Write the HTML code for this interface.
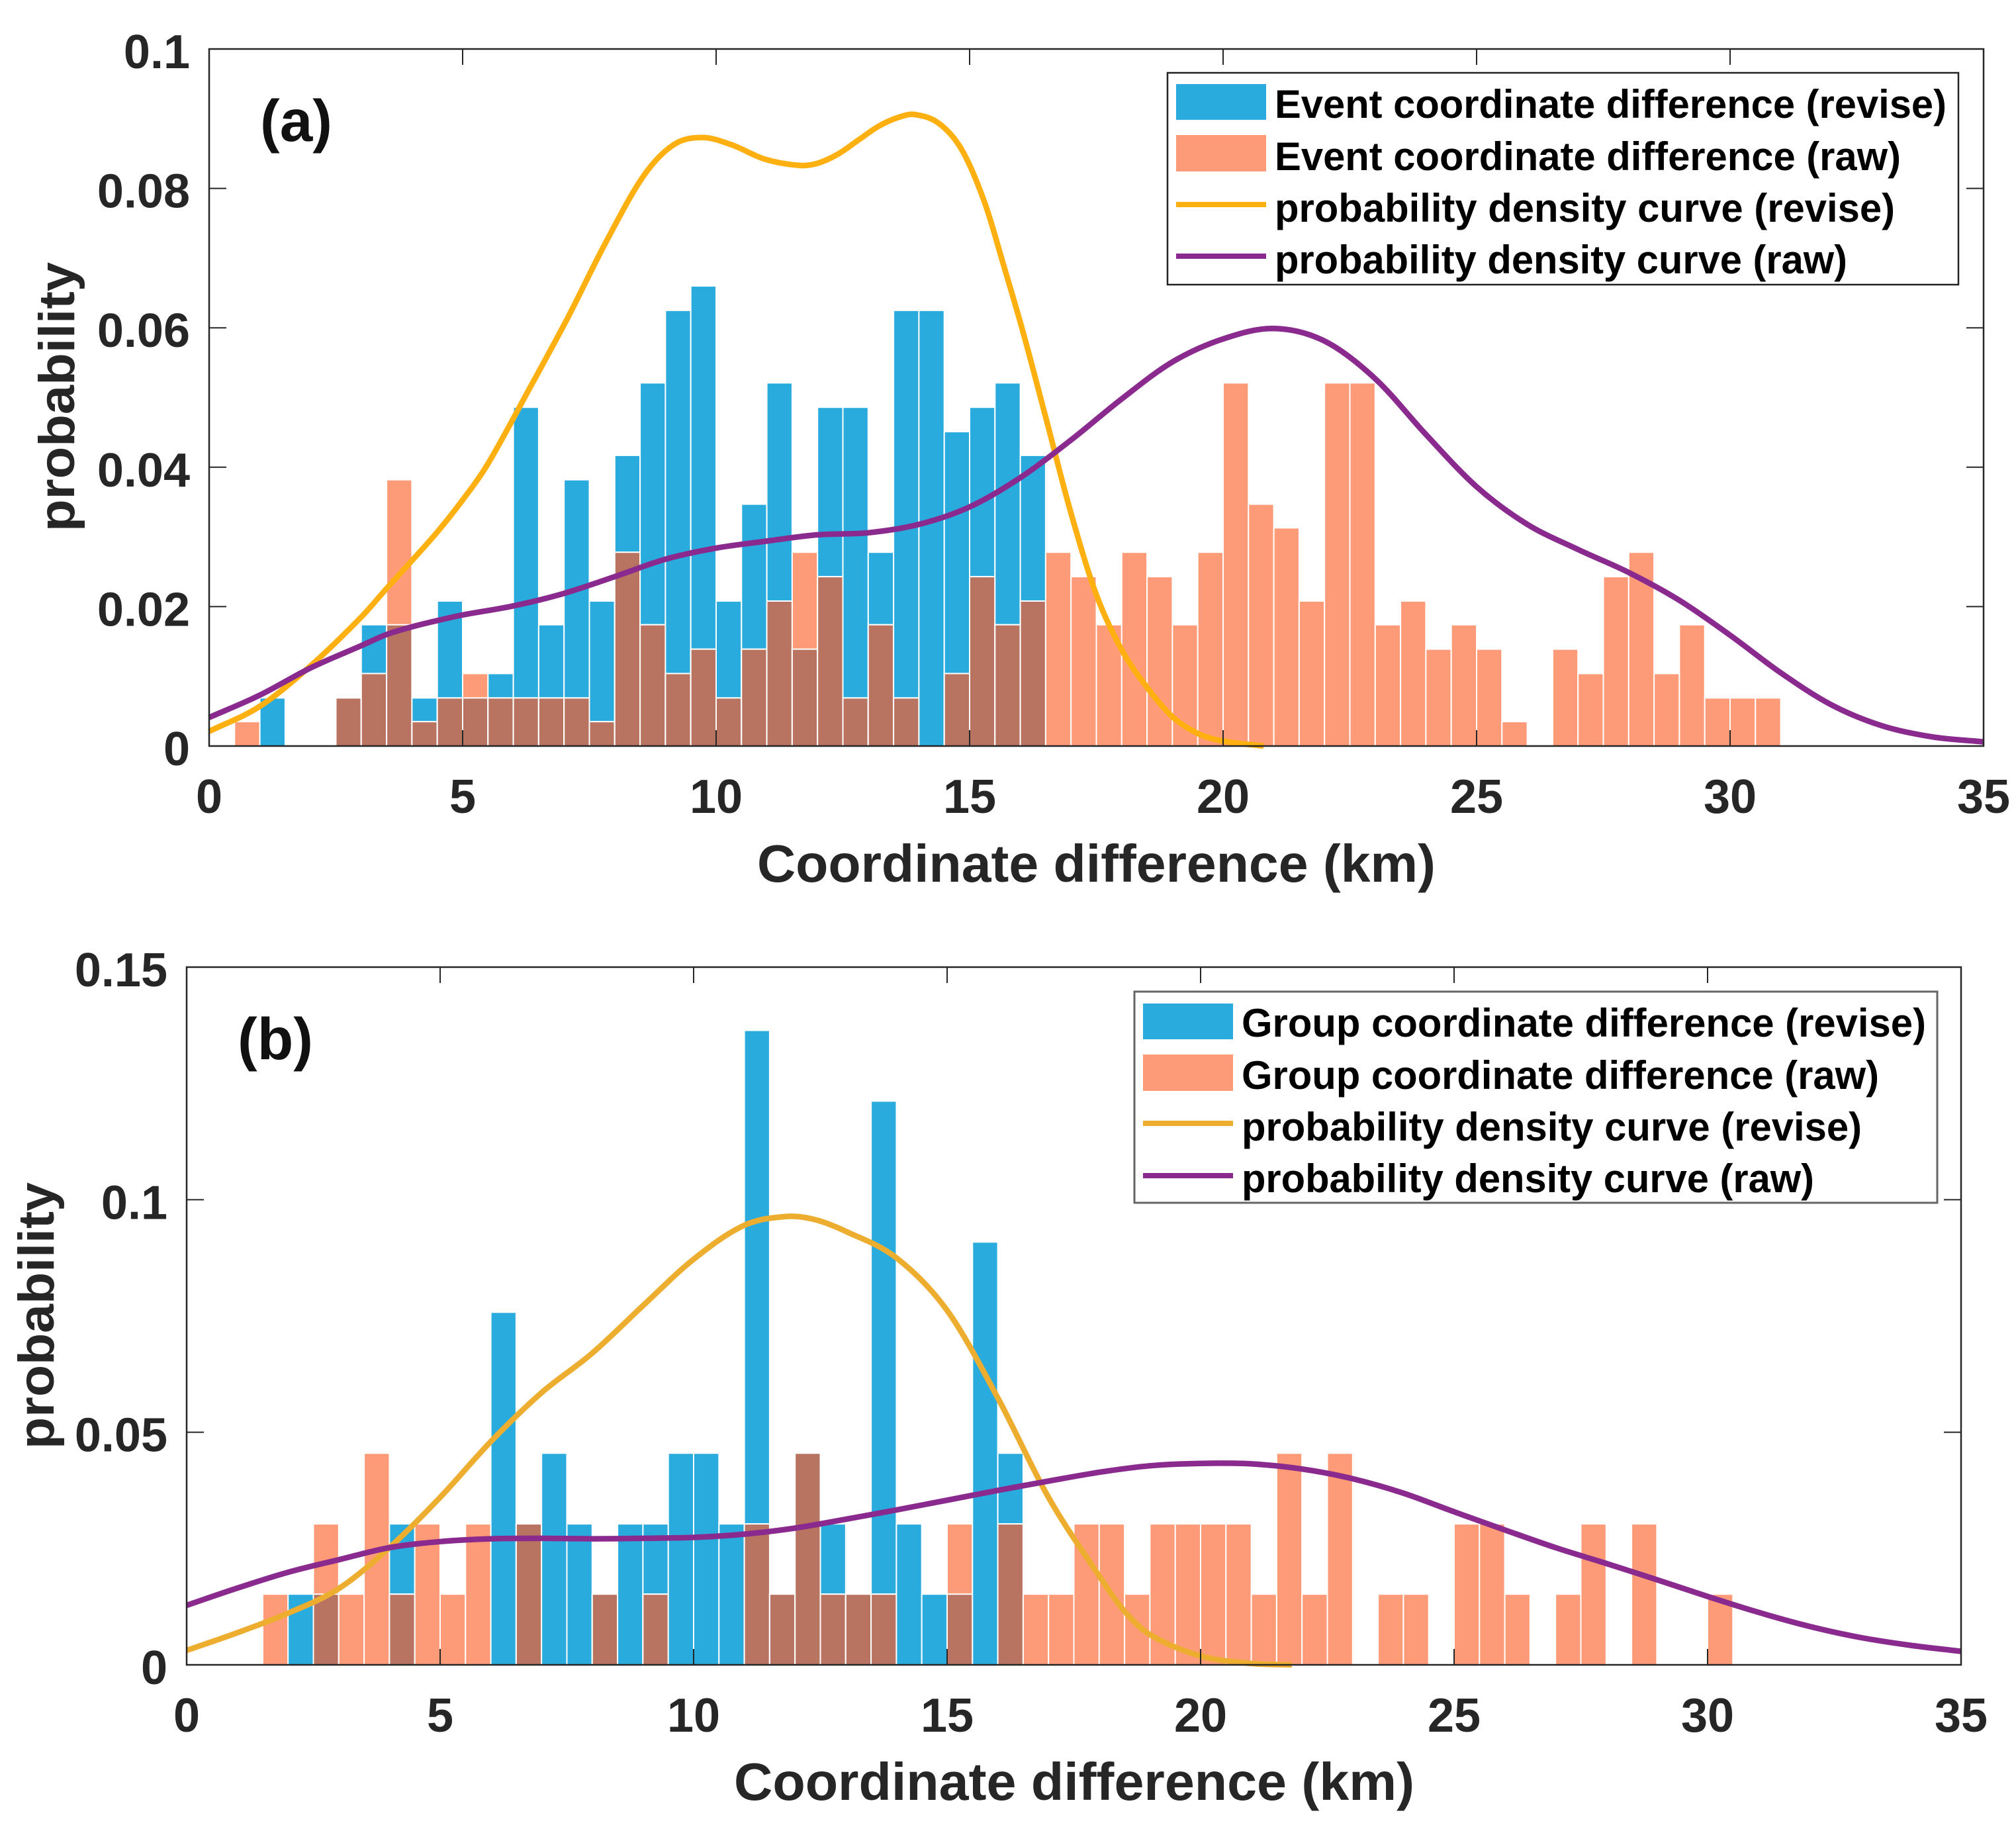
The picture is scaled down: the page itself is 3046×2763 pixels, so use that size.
<!DOCTYPE html>
<html lang="en">
<head>
<meta charset="utf-8">
<title>Coordinate difference histograms</title>
<style>
html,body{margin:0;padding:0;background:#fff;}
svg{display:block;position:absolute;left:0;top:0;}
text{font-family:"Liberation Sans",Arial,sans-serif;font-weight:bold;}
</style>
</head>
<body>
<svg id="figure" xmlns="http://www.w3.org/2000/svg" width="3046" height="2763" viewBox="0 0 3046 2763">
<rect x="0" y="0" width="3046" height="2763" fill="#fff"/>
<g id="panel-a"></g>
<g id="panel-b"></g>

<g>
<rect x="1764" y="110" width="1195" height="320" fill="#fff" stroke="#222" stroke-width="2.5"/>
<rect x="1777" y="127" width="136" height="54" fill="#29ABDE"/>
<rect x="1777" y="204" width="136" height="55" fill="#FD9B78"/>
<line x1="1777" x2="1913" y1="309" y2="309" stroke="#FDB00F" stroke-width="8"/>
<line x1="1777" x2="1913" y1="387" y2="387" stroke="#8A2A8E" stroke-width="8"/>
<text x="1926" y="178" font-size="60" fill="#000" textLength="1015" lengthAdjust="spacingAndGlyphs">Event coordinate difference (revise)</text>
<text x="1926" y="257" font-size="60" fill="#000" textLength="946" lengthAdjust="spacingAndGlyphs">Event coordinate difference (raw)</text>
<text x="1926" y="335" font-size="60" fill="#000" textLength="937" lengthAdjust="spacingAndGlyphs">probability density curve (revise)</text>
<text x="1926" y="413" font-size="60" fill="#000" textLength="865" lengthAdjust="spacingAndGlyphs">probability density curve (raw)</text>
</g>

<g>
<rect x="1714" y="1498" width="1213" height="319" fill="#fff" stroke="#666" stroke-width="3"/>
<rect x="1727" y="1516" width="136" height="54" fill="#29ABDE"/>
<rect x="1727" y="1593" width="136" height="55" fill="#FD9B78"/>
<line x1="1727" x2="1863" y1="1697" y2="1697" stroke="#EDAE30" stroke-width="8"/>
<line x1="1727" x2="1863" y1="1776" y2="1776" stroke="#8A2A8E" stroke-width="8"/>
<text x="1876" y="1566" font-size="60" fill="#000" textLength="1034" lengthAdjust="spacingAndGlyphs">Group coordinate difference (revise)</text>
<text x="1876" y="1645" font-size="60" fill="#000" textLength="963" lengthAdjust="spacingAndGlyphs">Group coordinate difference (raw)</text>
<text x="1876" y="1723" font-size="60" fill="#000" textLength="937" lengthAdjust="spacingAndGlyphs">probability density curve (revise)</text>
<text x="1876" y="1801" font-size="60" fill="#000" textLength="865" lengthAdjust="spacingAndGlyphs">probability density curve (raw)</text>
</g>

<text x="393" y="213" font-size="89" fill="#111" textLength="109" lengthAdjust="spacingAndGlyphs">(a)</text>
<text x="359" y="1600" font-size="89" fill="#111" textLength="114" lengthAdjust="spacingAndGlyphs">(b)</text>

<text x="1144" y="1332" font-size="80" fill="#262626" textLength="1025" lengthAdjust="spacingAndGlyphs">Coordinate difference (km)</text>
<text x="1109" y="2719" font-size="80" fill="#262626" textLength="1028" lengthAdjust="spacingAndGlyphs">Coordinate difference (km)</text>
<text transform="translate(112 803) rotate(-90)" font-size="76" fill="#262626" textLength="407" lengthAdjust="spacingAndGlyphs">probability</text>
<text transform="translate(81 2189) rotate(-90)" font-size="76" fill="#262626" textLength="403" lengthAdjust="spacingAndGlyphs">probability</text>
</svg>

<script>
// Histogram bin left edges (km), shared by both panels; each bin is 0.5 km wide
const binLefts = [0.5,1,1.5,2,2.5,3,3.5,4,4.5,5,5.5,6,6.5,7,7.5,8,8.5,9,9.5,10,10.5,11,11.5,12,12.5,13,13.5,14,14.5,15,15.5,16,16.5,17,17.5,18,18.5,19,19.5,20,20.5,21,21.5,22,22.5,23,23.5,24,24.5,25,25.5,26,26.5,27,27.5,28,28.5,29,29.5,30,30.5];
const binWidthKm = 0.5;

const eventRevise = [0,.0069,0,0,.0069,.0174,.0174,.0069,.0208,.0069,.0104,.0486,.0174,.0382,.0208,.0417,.0521,.0625,.066,.0208,.0347,.0521,.0139,.0486,.0486,.0278,.0625,.0625,.0451,.0486,.0521,.0417,0,0,0,0,0,0,0,0,0,0,0,0,0,0,0,0,0,0,0,0,0,0,0,0,0,0,0,0,0];
const eventRaw = [.0035,0,0,0,.0069,.0104,.0382,.0035,.0069,.0104,.0069,.0069,.0069,.0069,.0035,.0278,.0174,.0104,.0139,.0069,.0139,.0208,.0278,.0243,.0069,.0174,.0069,0,.0104,.0243,.0174,.0208,.0278,.0243,.0174,.0278,.0243,.0174,.0278,.0521,.0347,.0313,.0208,.0521,.0521,.0174,.0208,.0139,.0174,.0139,.0035,0,.0139,.0104,.0243,.0278,.0104,.0174,.0069,.0069,.0069];

const groupRevise = [0,0,0,.0152,.0152,0,0,.0303,0,0,0,.0758,.0303,.0455,.0303,.0152,.0303,.0303,.0455,.0455,.0303,.1364,.0152,.0455,.0303,.0152,.1212,.0303,.0152,.0152,.0909,.0455,0,0,0,0,0,0,0,0,0,0,0,0,0,0,0,0,0,0,0,0,0,0,0,0,0,0,0,0,0];
const groupRaw = [0,0,.0152,0,.0303,.0152,.0455,.0152,.0303,.0152,.0303,0,.0303,0,0,.0152,0,.0152,0,0,0,.0303,.0152,.0455,.0152,.0152,.0152,0,0,.0303,0,.0303,.0152,.0152,.0303,.0303,.0152,.0303,.0303,.0303,.0303,.0152,.0455,.0152,.0455,0,.0152,.0152,0,.0303,.0303,.0152,0,.0152,.0303,0,.0303,0,0,.0152,0];

// Density curves
const eventPdfReviseKm = [0,1,2,3,3.5,4,4.5,5,5.5,6.32,7.07,7.82,8.57,9.17,9.73,10.29,10.96,11.64,12,12.4,12.8,13.2,13.6,13.92,14.4,14.85,15.3,15.67,16.05,16.5,17,17.5,18,18.5,19,19.5,20,20.8];
const eventPdfRevise = [.0021,.0057,.0115,.0185,.0226,.0266,.0307,.0353,.0405,.0513,.0614,.0722,.0818,.0863,.0873,.0863,.0842,.0833,.0836,.0849,.0869,.0889,.0902,.0906,.0893,.0855,.0779,.069,.0595,.0472,.0334,.0217,.0138,.0084,.0042,.0018,.0007,0];
const eventPdfRawKm = [0,1,2,3,3.5,4,4.5,5,6,7,8,9,10,11,12,13,14,15,16,17,18,19,20,21,22,23,24,25,26,27,28,29,30,31,32,33,34,35];
const eventPdfRaw = [.0041,.0073,.0112,.0144,.016,.0171,.018,.0188,.0201,.0219,.0243,.0268,.0284,.0294,.0303,.0306,.0318,.0343,.0385,.0439,.0498,.0551,.0584,.0599,.0581,.0527,.0447,.0372,.0318,.0282,.0249,.0209,.0159,.0105,.0059,.0029,.0013,.0006];

const groupPdfReviseKm = [0,1,2,3,4,5,6,7,8,9,10,11,11.85,12.4,13,14,15,16,17,18,18.5,19,20,21,21.8];
const groupPdfRevise = [.0031,.0069,.0111,.0164,.0252,.036,.048,.0585,.067,.0772,.0872,.0945,.0964,.0957,.0932,.0875,.0762,.0574,.036,.0191,.0115,.0065,.0019,.0003,0];
const groupPdfRawKm = [0,1,2,3,4,5,6,7,8,9,10,11,12,13,14,15,16,17,18,19,20,21,22,23,24,25,26,27,28,29,30,31,32,33,34,35];
const groupPdfRaw = [.0128,.0165,.0199,.0226,.0252,.0265,.0271,.0272,.0271,.0272,.0274,.0281,.0294,.0313,.0333,.0354,.0375,.0395,.0414,.0428,.0433,.0432,.0421,.04,.0369,.0329,.029,.0252,.0218,.0183,.0147,.0113,.0083,.0059,.0042,.0029];

// Tick labels
const xTicks = [0,5,10,15,20,25,30,35];
const yTicksA = [0,0.02,0.04,0.06,0.08,0.1];
const yTicksB = [0,0.05,0.1,0.15];

const NS = 'http://www.w3.org/2000/svg';

function make(parent, tag, attrs) {
  const el = document.createElementNS(NS, tag);
  for (const k in attrs) el.setAttribute(k, attrs[k]);
  parent.appendChild(el);
  return el;
}

// Piecewise cubic through the sampled points using finite-difference slopes
function smoothPath(xs, ys) {
  const n = xs.length;
  const slope = xs.map(function (_, i) {
    const a = i > 0 ? i - 1 : i;
    const b = i < n - 1 ? i + 1 : i;
    return (ys[b] - ys[a]) / (xs[b] - xs[a]);
  });
  let d = 'M' + xs[0].toFixed(1) + ' ' + ys[0].toFixed(1);
  for (let i = 0; i < n - 1; i++) {
    const h = (xs[i + 1] - xs[i]) / 3;
    d += 'C' + (xs[i] + h).toFixed(1) + ' ' + (ys[i] + slope[i] * h).toFixed(1) + ' ' + (xs[i + 1] - h).toFixed(1) + ' ' + (ys[i + 1] - slope[i + 1] * h).toFixed(1) + ' ' + xs[i + 1].toFixed(1) + ' ' + ys[i + 1].toFixed(1);
  }
  return d;
}

function drawPanel(o) {
  const g = document.getElementById(o.id);
  const xOf = function (v) { return o.left + (v / 35) * (o.right - o.left); };
  const yOf = function (v) { return o.bottom - (v / o.yMax) * (o.bottom - o.top); };

  binLefts.forEach(function (left, i) {
    const x = xOf(left);
    const w = xOf(left + binWidthKm) - x;
    const rev = o.revise[i];
    const raw = o.raw[i];
    const low = Math.min(rev, raw);
    if (rev > 0) {
      const el = make(g, 'rect', {x: x, y: yOf(rev), width: w, height: yOf(0) - yOf(rev), fill: '#29ABDE', stroke: '#fff', 'stroke-width': 2});
      
      
    }
    if (raw > 0) {
      const el = make(g, 'rect', {x: x, y: yOf(raw), width: w, height: yOf(0) - yOf(raw), fill: '#FD9B78', stroke: '#fff', 'stroke-width': 2});
      
      
    }
    if (low > 0) {
      const el = make(g, 'rect', {x: x, y: yOf(low), width: w, height: yOf(0) - yOf(low), fill: '#B87461', stroke: '#fff', 'stroke-width': 2});
      
      
    }
  });

  const curveRevise = make(g, 'path', {d: smoothPath(o.pdfReviseKm.map(xOf), o.pdfRevise.map(yOf)), fill: 'none', stroke: o.reviseColor, 'stroke-width': 8.5, 'stroke-linejoin': 'round'});
  
  
  const curveRaw = make(g, 'path', {d: smoothPath(o.pdfRawKm.map(xOf), o.pdfRaw.map(yOf)), fill: 'none', stroke: '#8A2A8E', 'stroke-width': 8.5, 'stroke-linejoin': 'round'});
  
  

  const frame = make(g, 'rect', {x: o.left, y: o.top, width: o.right - o.left, height: o.bottom - o.top, fill: 'none', stroke: '#262626', 'stroke-width': 2.5});
  
  

  xTicks.forEach(function (v) {
    const x = xOf(v);
    const t1 = make(g, 'line', {x1: x, x2: x, y1: o.bottom, y2: o.bottom - 24, stroke: '#262626', 'stroke-width': 2});
    
    
    const t2 = make(g, 'line', {x1: x, x2: x, y1: o.top, y2: o.top + 24, stroke: '#262626', 'stroke-width': 2});
    
    
    const lab = make(g, 'text', {x: x, y: o.bottom + 101, 'font-size': 72, fill: '#262626', 'text-anchor': 'middle'});
    lab.textContent = String(v);
    
    
  });

  o.yTicks.forEach(function (v) {
    const y = yOf(v);
    const t1 = make(g, 'line', {x1: o.left, x2: o.left + 26, y1: y, y2: y, stroke: '#262626', 'stroke-width': 2});
    
    
    const t2 = make(g, 'line', {x1: o.right, x2: o.right - 26, y1: y, y2: y, stroke: '#262626', 'stroke-width': 2});
    
    
    const lab = make(g, 'text', {x: o.left - 29, y: y + 29, 'font-size': 72, fill: '#262626', 'text-anchor': 'end'});
    lab.textContent = String(v);
    
    
  });
}

drawPanel({id: 'panel-a', left: 316, right: 2997, top: 74, bottom: 1127, yMax: 0.1, yTicks: yTicksA, revise: eventRevise, raw: eventRaw, pdfReviseKm: eventPdfReviseKm, pdfRevise: eventPdfRevise, pdfRawKm: eventPdfRawKm, pdfRaw: eventPdfRaw, reviseColor: '#FDB00F'});
drawPanel({id: 'panel-b', left: 282, right: 2963, top: 1461, bottom: 2515, yMax: 0.15, yTicks: yTicksB, revise: groupRevise, raw: groupRaw, pdfReviseKm: groupPdfReviseKm, pdfRevise: groupPdfRevise, pdfRawKm: groupPdfRawKm, pdfRaw: groupPdfRaw, reviseColor: '#EDAE30'});
</script>
</body>
</html>
